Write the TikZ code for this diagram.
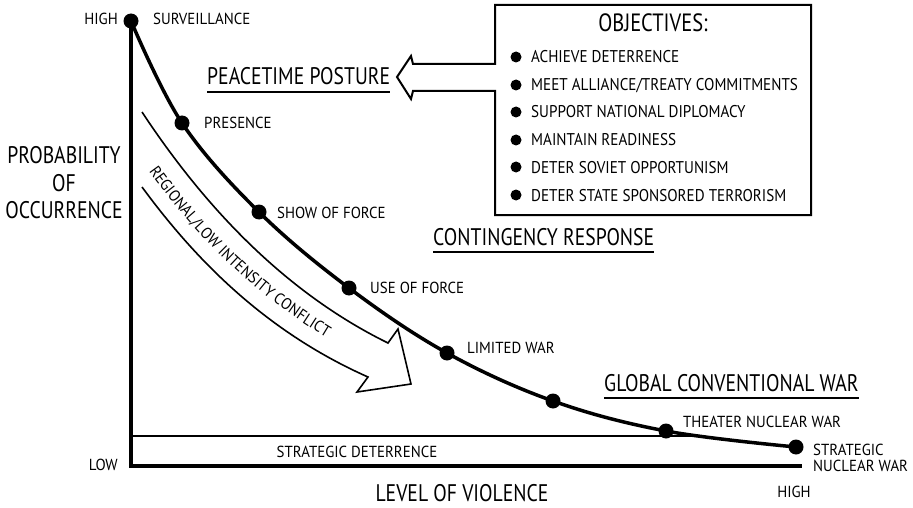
\documentclass[tikz,border=0pt]{standalone}
\usepackage{fontspec}
\setmainfont[FakeStretch=0.82]{PT Sans}
\newfontfamily\lblfont[FakeStretch=0.93]{PT Sans}
\newfontfamily\itemfont[FakeStretch=0.89]{PT Sans}
\usetikzlibrary{decorations.text}
\begin{document}
\begin{tikzpicture}[x=1pt,y=-1pt,
 every node/.style={inner sep=0pt},
 lbl/.style={anchor=base west,font=\lblfont\fontsize{16}{16}\selectfont},
 item/.style={anchor=base west,font=\itemfont\fontsize{17}{17}\selectfont},
 big/.style={anchor=base,font=\fontsize{24}{24}\selectfont},
 headl/.style={anchor=base west,font=\fontsize{24}{24}\selectfont},
 dot/.style={circle,fill=black,minimum size=15pt},
 bul/.style={circle,fill=black,minimum size=11pt},
 axis/.style={line width=4pt},
 curve/.style={line width=3.5pt},
 thinl/.style={line width=1.6pt},
 uline/.style={line width=2pt}]
\useasboundingbox (0,0) rectangle (913,508);
% dots on the curve
\node[dot] (d1) at (131,21) {};
\node[dot] (d2) at (182,123) {};
\node[dot] (d3) at (259,212) {};
\node[dot] (d4) at (349,288) {};
\node[dot] (d5) at (447,353) {};
\node[dot] (d6) at (553,401) {};
\node[dot] (d7) at (666,431) {};
\node[dot] (d8) at (796,447) {};
\draw[curve] plot[smooth,tension=0.6] coordinates {(d1.center) (d2.center) (d3.center) (d4.center) (d5.center) (d6.center) (d7.center) (d8.center)};
% axes
\coordinate (o) at (131,466);
\coordinate (xend) at (802,466);
\draw[axis] (d1.center) -- (o) -- (xend);
\coordinate (sdl) at (131,436);
\coordinate (sdr) at (702,436);
\draw[thinl] (sdl) -- (sdr);
% labels
\node[lbl,anchor=base east] (yhigh) at (118,25) {HIGH};
\node[lbl] (surv) at (153,25) {SURVEILLANCE};
\node[lbl] (pres) at (204,129) {PRESENCE};
\node[lbl] (show) at (277,218) {SHOW OF FORCE};
\node[lbl] (use) at (370,293) {USE OF FORCE};
\node[lbl] (lim) at (467,353) {LIMITED WAR};
\node[lbl] (thea) at (683,427) {THEATER NUCLEAR WAR};
\node[lbl] (strat1) at (813,455) {STRATEGIC};
\node[lbl] (strat2) at (813,471) {NUCLEAR WAR};
\node[lbl,anchor=base east] (low) at (118,470) {LOW};
\node[lbl,anchor=base] (xhigh) at (794,497) {HIGH};
\node[lbl,anchor=base] (sdt) at (357,457) {STRATEGIC DETERRENCE};
\node[big] (lov) at (462,501) {LEVEL OF VIOLENCE};
\node[big] (prob1) at (64,164) {PROBABILITY};
\node[big] (prob2) at (64,191) {OF};
\node[big] (prob3) at (64,218) {OCCURRENCE};
% headings
\node[headl] (pp) at (207,85) {PEACETIME POSTURE};
\draw[uline] ([yshift=-7pt]pp.base west) -- ([yshift=-7pt]pp.base east);
\node[headl] (cr) at (433,245) {CONTINGENCY RESPONSE};
\draw[uline] ([yshift=-7pt]cr.base west) -- ([yshift=-7pt]cr.base east);
\node[headl] (gcw) at (604,391) {GLOBAL CONVENTIONAL WAR};
\draw[uline] ([yshift=-7pt]gcw.base west) -- ([yshift=-7pt]gcw.base east);
% objectives box with hollow arrow
\draw[uline,line join=miter] (495,91) -- (495,215) -- (811,215) -- (811,5) -- (495,5) -- (495,64)
  -- (413,64) -- (411,56) -- (397,77) -- (411,99) -- (413,91) -- cycle;
\node[big,font=\fontsize{25}{25}\selectfont] (objt) at (653,32) {OBJECTIVES:};
\node[bul] (b1) at (516,57) {};
\node[bul] (b2) at (516,85) {};
\node[bul] (b3) at (516,112) {};
\node[bul] (b4) at (516,140) {};
\node[bul] (b5) at (516,167) {};
\node[bul] (b6) at (516,195) {};
\node[item] (o1) at (531,63) {ACHIEVE DETERRENCE};
\node[item] (o2) at (531,91) {MEET ALLIANCE/TREATY COMMITMENTS};
\node[item] (o3) at (531,118) {SUPPORT NATIONAL DIPLOMACY};
\node[item] (o4) at (531,146) {MAINTAIN READINESS};
\node[item] (o5) at (531,173) {DETER SOVIET OPPORTUNISM};
\node[item] (o6) at (531,201) {DETER STATE SPONSORED TERRORISM};
% regional / low intensity conflict arrow
\draw[thinl,line join=miter] (142,112) .. controls (200,200) and (280,290) .. (388,343) -- (398,329) -- (411,384) -- (357,392) -- (368,377) .. controls (262,330) and (192,255) .. (142,187);
\path[decorate,decoration={text along path,text align=left,
  text={|\lblfont\fontsize{16}{16}\selectfont|REGIONAL/LOW INTENSITY CONFLICT}}]
  (149,171) .. controls (202,245) and (272,314) .. (372,362);
\end{tikzpicture}
\end{document}
